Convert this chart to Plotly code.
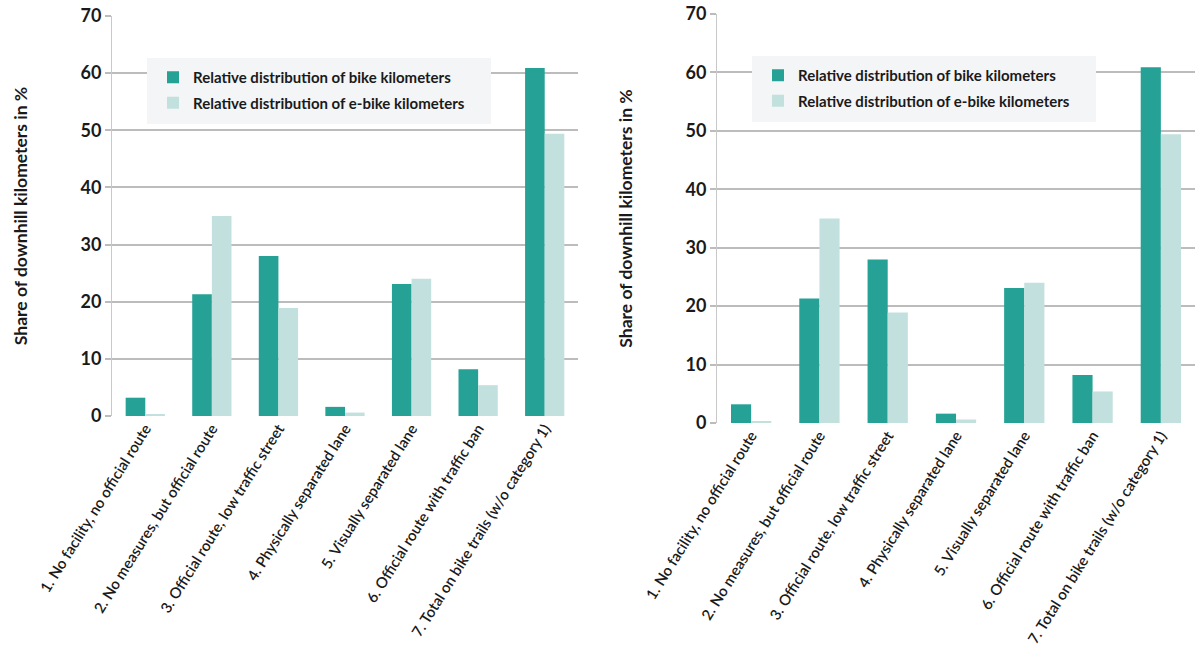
import plotly.graph_objects as go

categories = [
    "1. No facility, no official route",
    "2. No measures, but official route",
    "3. Official route, low traffic street",
    "4. Physically separated lane",
    "5. Visually separated lane",
    "6. Official route with traffic ban",
    "7. Total on bike trails (w/o category 1)",
]
bike_km = [3.2, 21.3, 28.0, 1.6, 23.1, 8.2, 60.9]
ebike_km = [0.3, 35.0, 18.9, 0.6, 24.0, 5.4, 49.4]
series_names = [
    "Relative distribution of bike kilometers",
    "Relative distribution of e-bike kilometers",
]
y_ticks = [0, 10, 20, 30, 40, 50, 60, 70]

TEAL = "#25a295"
LIGHT = "#c2e1de"
GRID = "#bcbcbc"
FONT = "Lato, 'Open Sans', sans-serif"
W, H = 1196, 666

fig = go.Figure()

panels = [
    # (x axis, y axis, legend, x-domain px, y-domain px)
    ("x", "y", "legend", (112, 578), (16, 416)),
    ("x2", "y2", "legend2", (717, 1195), (14, 423)),
]

for p, (xa, ya, lg, _, _) in enumerate(panels):
    for k, (name, vals, col) in enumerate(zip(series_names, [bike_km, ebike_km], [TEAL, LIGHT])):
        fig.add_trace(go.Bar(
            x=categories, y=vals, name=name, marker_color=col,
            marker_line_width=0, xaxis=xa, yaxis=ya, legend=lg,
            legendgroup=f"p{p}s{k}",
        ))

layout = dict(
    width=W, height=H,
    margin=dict(l=0, r=0, t=0, b=0, autoexpand=False),
    paper_bgcolor="white", plot_bgcolor="white",
    barmode="group", bargap=0.41, bargroupgap=0,
    font=dict(family=FONT, color="#1a1a1a"),
    showlegend=True,
)

shapes = []
for i, (xa, ya, lg, (x0, x1), (yt, yb)) in enumerate(panels):
    sfx = "" if i == 0 else str(i + 1)
    layout["xaxis" + sfx] = dict(
        domain=[x0 / W, x1 / W], anchor="y" + sfx, automargin=False,
        tickangle=-58, tickfont=dict(size=15, family=FONT, color="#1a1a1a", weight=600),
        showgrid=False, showline=False, ticks="", zeroline=False,
        fixedrange=True,
    )
    layout["yaxis" + sfx] = dict(
        domain=[1 - yb / H, 1 - yt / H], anchor="x" + sfx, automargin=False,
        range=[0, 70], tickvals=y_ticks,
        tickfont=dict(size=18, family=FONT, color="#1a1a1a", weight="bold"),
        showgrid=True, gridcolor=GRID, gridwidth=1.6,
        ticks="outside", ticklen=6, tickcolor=GRID, tickwidth=1.6,
        showline=True, linecolor="#c8c8c8", linewidth=1,
        zeroline=False,
        title=dict(text="Share of downhill kilometers in %",
                   font=dict(size=17.5, family=FONT, color="#1a1a1a", weight="bold"),
                   standoff=48),
    )
    # legend panel background
    lx0 = x0 + 35
    lx1 = lx0 + 344
    shapes.append(dict(type="rect", xref="paper", yref="paper",
                       x0=lx0 / W, x1=lx1 / W, y0=1 - (yt + 108) / H, y1=1 - (yt + 42) / H,
                       fillcolor="#f4f5f7", line_width=0, layer="above"))
    layout[lg] = dict(
        x=(lx0 + 6) / W, y=1 - (yt + 45) / H, xanchor="left", yanchor="top",
        bgcolor="rgba(0,0,0,0)", borderwidth=0,
        font=dict(size=15, family=FONT, color="#1a1a1a", weight="bold"),
        itemwidth=30, tracegroupgap=3, traceorder="grouped",
    )

layout["shapes"] = shapes
fig.update_layout(**layout)
fig.write_html("out.html")
